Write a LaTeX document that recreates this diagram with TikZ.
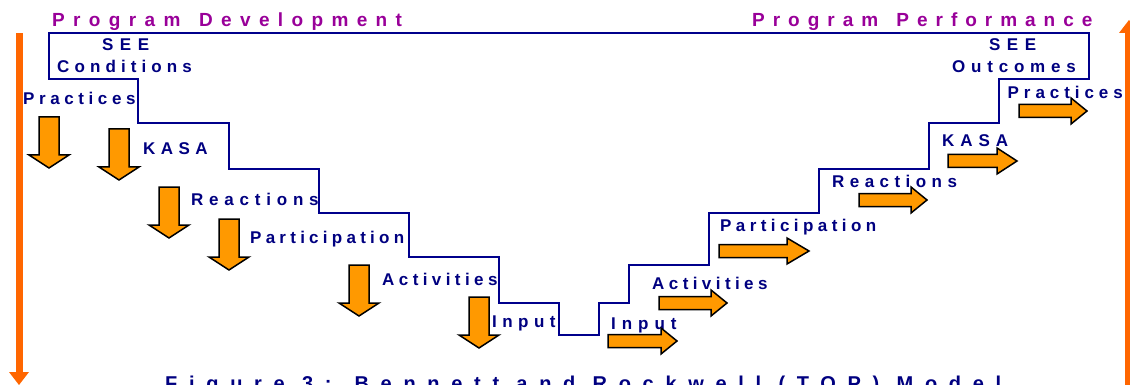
\documentclass[tikz,border=0pt]{standalone}
\usepackage{fontspec}
\setmainfont{Liberation Sans}
\definecolor{navy}{RGB}{0,0,128}
\definecolor{stairblue}{RGB}{0,0,140}
\definecolor{ttlpurple}{RGB}{153,0,153}
\definecolor{barorange}{RGB}{255,102,0}
\definecolor{arrorange}{RGB}{255,153,0}
\newcommand\trk[2]{\addfontfeatures{LetterSpace=#1}#2}
\tikzset{
  lbl/.style={text=navy, inner sep=0pt, anchor=base west, font=\fontsize{17}{17}\selectfont\bfseries},
  ttl/.style={text=ttlpurple, inner sep=0pt, anchor=base west, font=\fontsize{19}{19}\selectfont\bfseries},
  captiontext/.style={text=navy, inner sep=0pt, anchor=base west, font=\fontsize{20}{20}\selectfont\bfseries},
  stair/.style={draw=stairblue, line width=1.8pt, line join=miter},
  blockarrow/.style={draw=black, line width=1.5pt, fill=arrorange, line join=miter},
  obar/.style={fill=barorange},
  darr/.pic={\draw[blockarrow] (-10,0) -- (-10,38) -- (-20,38) -- (0,51) -- (20,38) -- (10,38) -- (10,0) -- cycle;}
}
\newcommand\rarrow[4]{\draw[blockarrow] (#1,#2-6.5) -- (#3,#2-6.5) -- (#3,#2-13) -- (#4,#2) -- (#3,#2+13) -- (#3,#2+6.5) -- (#1,#2+6.5) -- cycle;}
\begin{document}
\begin{tikzpicture}[x=1pt,y=-1pt]
\useasboundingbox (0,0) rectangle (1130,385);
\clip (0,0) rectangle (1130,385);
% orange side bars
\fill[obar] (15.5,33) rectangle (22.5,372);
\fill[obar] (9,372) -- (29,372) -- (19,385) -- cycle;
\fill[obar] (1125,33) rectangle (1132,386);
\fill[obar] (1119,33) -- (1139,33) -- (1129,20) -- cycle;
% staircase
\draw[stair] (49,33) -- (49,79) -- (138,79) -- (138,123) -- (229,123) -- (229,169)
  -- (319,169) -- (319,213) -- (409,213) -- (409,257) -- (499,257) -- (499,303)
  -- (559,303) -- (559,335) -- (599,335) -- (599,303) -- (629,303) -- (629,265)
  -- (709,265) -- (709,213) -- (819,213) -- (819,169) -- (929,169) -- (929,123)
  -- (999,123) -- (999,79) -- (1089,79) -- (1089,33) -- cycle;
% titles
\node[ttl] (tdev) at (52,26.5) {\trk{44}{Program\hspace{5pt} Development}};
\node[ttl] (tperf) at (752,26.5) {\trk{42}{Program\hspace{5pt} Performance}};
% left labels
\node[lbl] (lsee) at (102,51) {\trk{38}{SEE}};
\node[lbl] (lcond) at (57,72.5) {\trk{30}{Conditions}};
\node[lbl] (lprac) at (23,104.5) {\trk{27}{Practices}};
\node[lbl] (lkasa) at (143,155) {\trk{32}{KASA}};
\node[lbl] (lreac) at (191,205) {\trk{34}{Reactions}};
\node[lbl] (lpart) at (250,243.5) {\trk{25}{Participation}};
\node[lbl] (lact) at (382,285) {\trk{26}{Activities}};
\node[lbl] (linp) at (492,327) {\trk{32}{Input}};
% right labels
\node[lbl] (rinp) at (611,329) {\trk{35}{Input}};
\node[lbl] (ract) at (652,289) {\trk{26}{Activities}};
\node[lbl] (rpart) at (720,231) {\trk{26}{Participation}};
\node[lbl] (rreac) at (832,187) {\trk{32}{Reactions}};
\node[lbl] (rkasa) at (942,146.5) {\trk{35}{KASA}};
\node[lbl] (rprac) at (1007.5,99) {\trk{29}{Practices}};
\node[lbl] (rsee) at (989,51) {\trk{38}{SEE}};
\node[lbl] (rout) at (952,73) {\trk{34}{Outcomes}};
% down arrows
\pic at (49,117) {darr};
\pic at (119,129) {darr};
\pic at (169,187) {darr};
\pic at (229,219) {darr};
\pic at (359,265) {darr};
\pic at (479,297) {darr};
% right arrows
\rarrow{608}{341}{661}{677}
\rarrow{659}{303}{711}{727}
\rarrow{719}{251}{787}{809}
\rarrow{859}{200}{911}{927}
\rarrow{948}{161}{997}{1017}
\rarrow{1019}{111}{1071}{1087}
% caption
\node[captiontext] (caption) at (165,390.5) {\trk{58.5}{Figure 3: Bennett and Rockwell (TOP) Model}};
\end{tikzpicture}
\end{document}
